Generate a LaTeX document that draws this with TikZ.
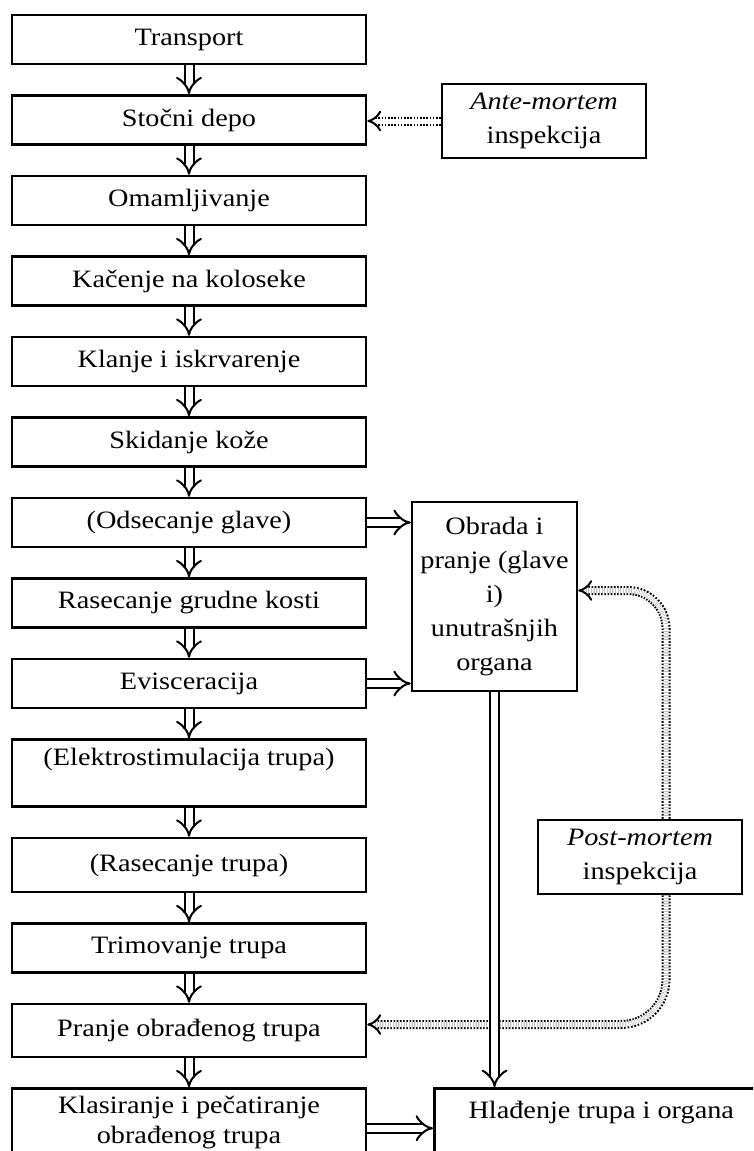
\documentclass[tikz,border=0pt]{standalone}
\usepackage{fontspec}
\setmainfont{Liberation Serif}[FakeStretch=1.13]
\usetikzlibrary{arrows.meta,positioning,calc}

\begin{document}
\begin{tikzpicture}[x=1pt, y=1pt,
  font=\fontsize{25}{34}\selectfont,
  stepbox/.style={draw, line width=2.5pt, minimum width=354pt, minimum height=49pt,
                  align=center, inner sep=0pt},
  sidebox/.style={draw, line width=2.5pt, minimum width=204pt, minimum height=74pt,
                  align=center, inner sep=0pt},
  flow/.style={double, double distance=7pt, line width=2pt, -{Implies}},
  check/.style={double, double distance=5pt, line width=2pt,
                dash pattern=on 1.6pt off 1.6pt, -{Implies}},
  node distance=29pt]
  \useasboundingbox (0,0) rectangle (753,-1151);
  \clip (0,0) rectangle (753,-1151);
  % main line of the process
  \node[stepbox] (transport) at (189,-39.5) {Transport};
  \node[stepbox, below=of transport] (depo) {Stočni depo};
  \node[stepbox, below=of depo] (omam) {Omamljivanje};
  \node[stepbox, below=of omam] (kacenje) {Kačenje na koloseke};
  \node[stepbox, below=of kacenje] (klanje) {Klanje i iskrvarenje};
  \node[stepbox, below=of klanje] (koza) {Skidanje kože};
  \node[stepbox, below=of koza] (glava) {(Odsecanje glave)};
  \node[stepbox, below=of glava] (grudna) {Rasecanje grudne kosti};
  \node[stepbox, below=of grudna] (evisc) {Evisceracija};
  \node[stepbox, below=of evisc, minimum height=0pt, text height=26pt, text depth=41pt] (elektro)
      {(Elektrostimulacija trupa)};
  \node[stepbox, below=of elektro, minimum height=54pt] (rasec) {(Rasecanje trupa)};
  \node[stepbox, below=of rasec] (trim) {Trimovanje trupa};
  \node[stepbox, below=of trim, minimum height=53pt] (pranje) {Pranje obrađenog trupa};
  \node[stepbox, below=of pranje, text height=55pt, text depth=40pt] (klas)
      {Klasiranje i pečatiranje\\[-4pt] obrađenog trupa};
  % side boxes
  \node[sidebox] (ante) at (544,-121) {\textit{Ante-mortem}\\ inspekcija};
  \node[sidebox] (post) at (640,-857) {\textit{Post-mortem}\\ inspekcija};
  \node[draw, line width=2.5pt, minimum width=165pt, minimum height=189pt, align=center,
        inner sep=0pt] (obrada) at (494.5,-596.5)
      {Obrada i\\ pranje (glave\\ i)\\ unutrašnjih\\ organa};
  \node[draw, line width=2.5pt, anchor=north west, minimum width=334pt, text height=30pt,
        text depth=70pt, inner sep=0pt] (hladj) at (433,-1087) {Hlađenje trupa i organa};
  % connectors
  \foreach \a/\b in {transport/depo, depo/omam, omam/kacenje, kacenje/klanje, klanje/koza,
                     koza/glava, glava/grudna, grudna/evisc, evisc/elektro, elektro/rasec,
                     rasec/trim, trim/pranje, pranje/klas}
    \draw[flow] (\a) -- (\b);
  \draw[flow] (glava.east) -- (glava.east -| obrada.west);
  \draw[flow] (evisc.east) -- (evisc.east -| obrada.west);
  \draw[check] (ante.west) -- (ante.west -| depo.east);
  \draw[check, rounded corners=38pt] ([xshift=26pt]post.north) |- ([yshift=6pt]obrada.east);
  \draw[check, rounded corners=45pt] ([xshift=26pt]post.south) |- ([yshift=6pt]pranje.east);
  \draw[flow] (obrada.south) -- (obrada.south |- hladj.north);
  \draw[flow] ([yshift=-41pt]klas.north east) -- ([yshift=-41pt]klas.north east -| hladj.west);
\end{tikzpicture}
\end{document}
